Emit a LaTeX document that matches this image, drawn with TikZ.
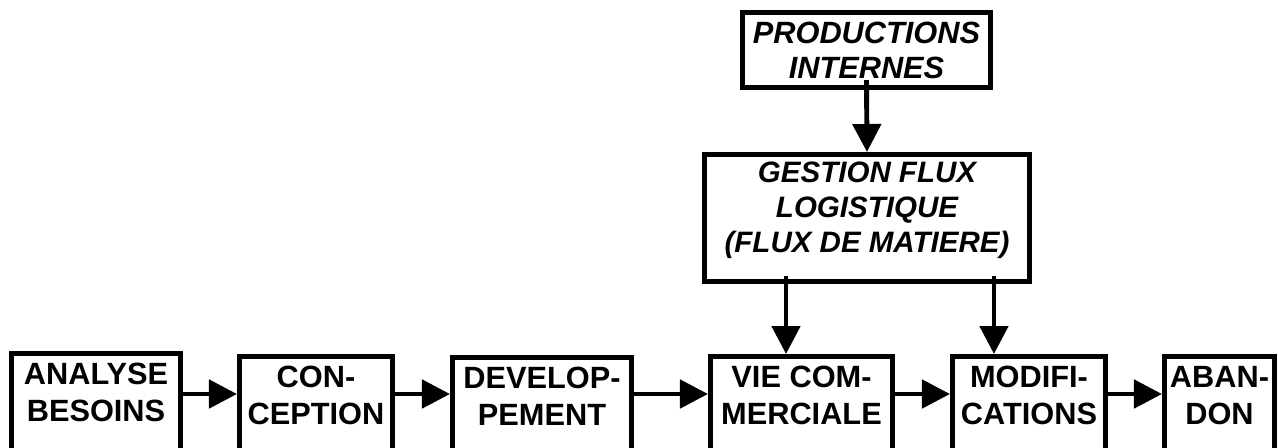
\documentclass[tikz,border=0pt]{standalone}
\usepackage{fontspec}
\setmainfont{Liberation Sans}
\usetikzlibrary{calc,arrows.meta}

\begin{document}
\begin{tikzpicture}[x=0.02cm,y=-0.02cm,
  boite/.style={draw,line width=2.6pt,align=center,inner xsep=0pt},
  etape/.style={boite,anchor=north,inner ysep=5pt,text height=34.1pt,text depth=3cm,
    font=\fontsize{17.5}{21.5}\selectfont\bfseries},
  flux/.style={line width=2.8pt,-{Triangle[length=0.56cm,width=0.56cm]}}]

\useasboundingbox (0,0) rectangle (1278,447);
\clip (0,0) rectangle (1278,447);

% chaine du cycle de vie
\node[etape,minimum width=3.39cm] (analyse) at (96,351) {ANALYSE\\BESOINS};
\node[etape,minimum width=3.07cm] (conception) at (316,354) {CON-\\CEPTION};
\node[etape,minimum width=3.59cm] (develop) at (542,355) {DEVELOP-\\PEMENT};
\node[etape,minimum width=3.65cm] (vie) at (801.5,354) {VIE COM-\\MERCIALE};
\node[etape,minimum width=3.07cm] (modif) at (1029,354) {MODIFI-\\CATIONS};
\node[etape,minimum width=2.21cm] (abandon) at (1219.5,354) {ABAN-\\DON};

% boites du haut
\node[boite,minimum width=4.97cm,minimum height=1.51cm,
  font=\fontsize{17.5}{20}\selectfont\bfseries\itshape] (prod) at (866.5,50) {PRODUCTIONS\\INTERNES};
\node[boite,anchor=north,minimum width=6.51cm,inner ysep=4pt,text height=51.9pt,text depth=12.4pt,
  font=\fontsize{16.8}{19.8}\selectfont\bfseries\itshape] (gest) at (867,152)
  {GESTION FLUX\\LOGISTIQUE\\(FLUX DE MATIERE)};

\coordinate (ligne) at (0,394);
\draw[flux] (analyse.east |- ligne) -- (conception.west |- ligne);
\draw[flux] (conception.east |- ligne) -- (develop.west |- ligne);
\draw[flux] (develop.east |- ligne) -- (vie.west |- ligne);
\draw[flux] (vie.east |- ligne) -- (modif.west |- ligne);
\draw[flux] (modif.east |- ligne) -- (abandon.west |- ligne);

\draw[flux] ([yshift=0.2cm]prod.south) -- (gest.north);

\coordinate (g1) at ([xshift=-1.62cm,yshift=0.16cm]gest.south);
\coordinate (g2) at ([xshift=2.54cm,yshift=0.16cm]gest.south);
\draw[flux] (g1) -- (g1 |- vie.north);
\draw[flux] (g2) -- (g2 |- modif.north);

\end{tikzpicture}
\end{document}
